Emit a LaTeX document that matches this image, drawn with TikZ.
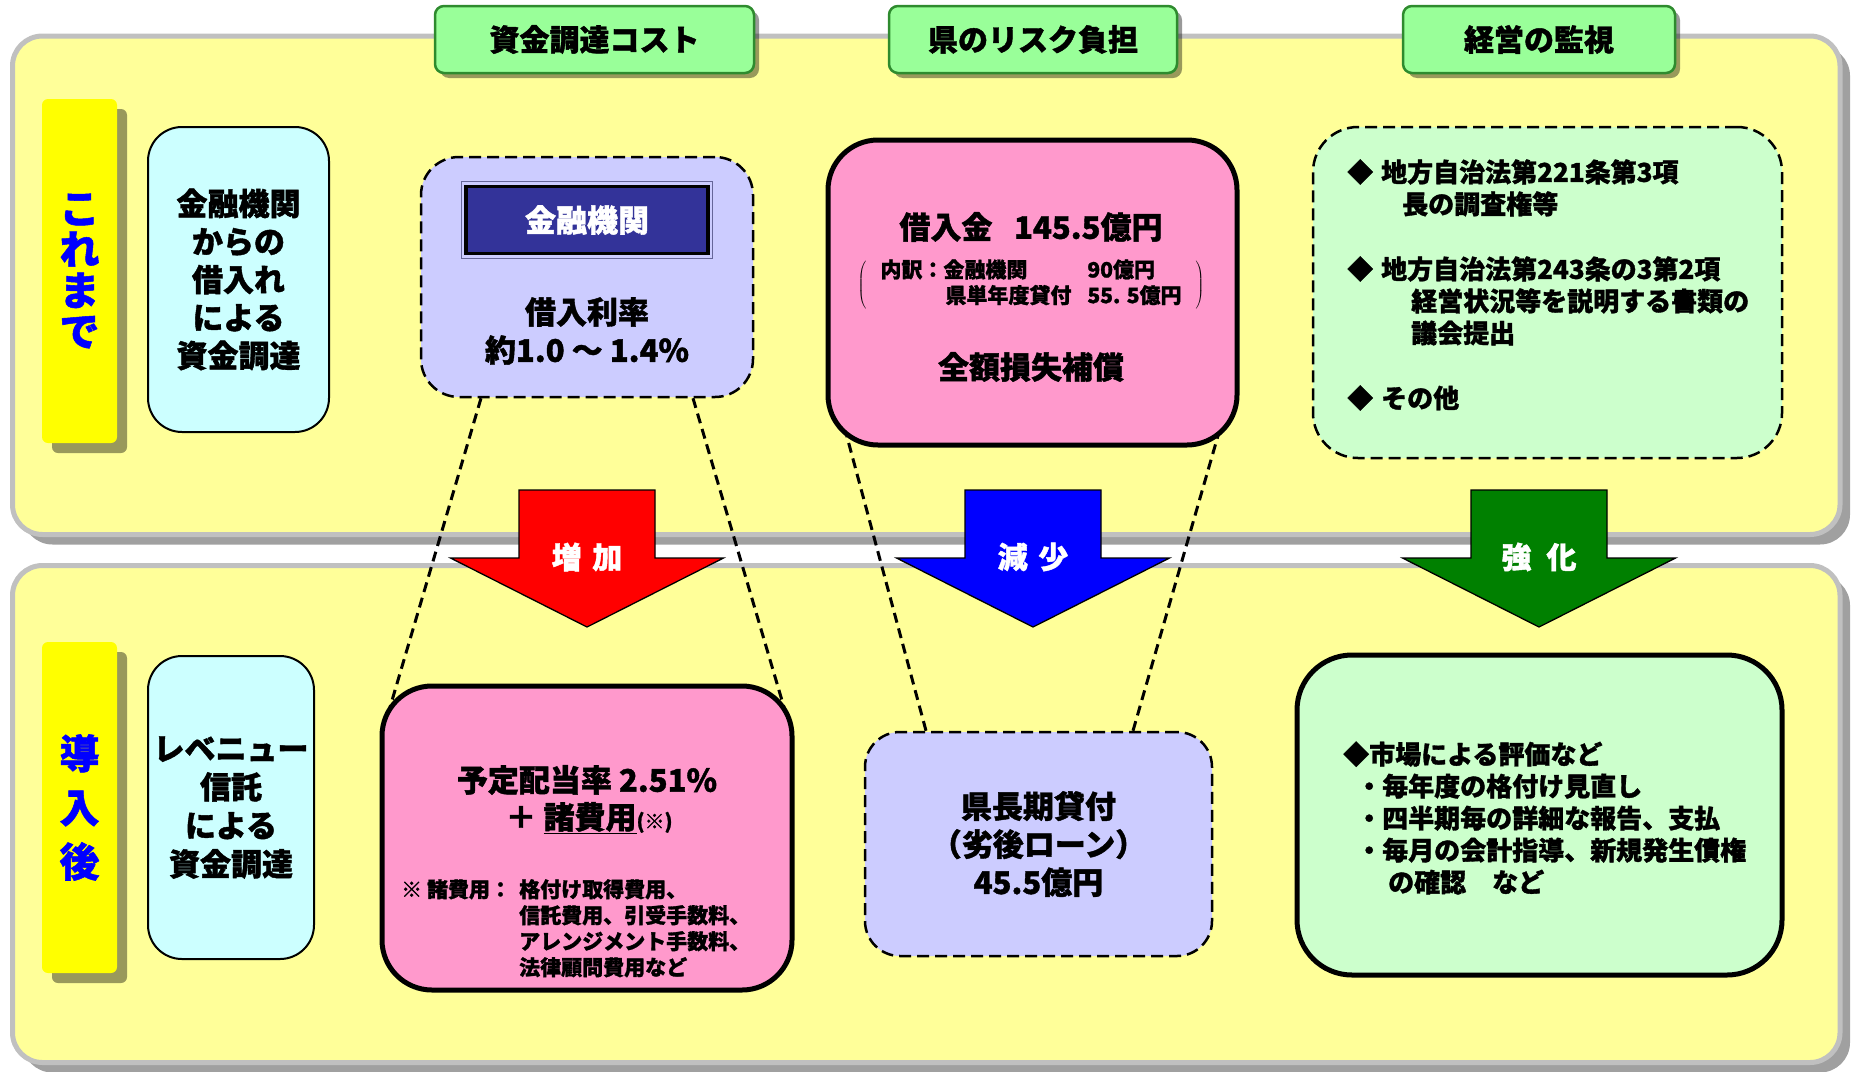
\documentclass[tikz,border=0pt]{standalone}
\usepackage{fontspec}
\setmainfont{Noto Sans CJK JP}[BoldFeatures={FakeBold=1.3}]
\usetikzlibrary{shadows,calc}
\definecolor{panelY}{HTML}{FFFF99}
\definecolor{panelB}{HTML}{C0C0C0}
\definecolor{panelS}{HTML}{A0A0A0}
\definecolor{hdrG}{HTML}{99FF99}
\definecolor{hdrB}{HTML}{2E8B2E}
\definecolor{cyanF}{HTML}{CCFFFF}
\definecolor{lavF}{HTML}{CCCCFF}
\definecolor{pinkF}{HTML}{FF99CC}
\definecolor{mintF}{HTML}{CCFFCC}
\definecolor{navyF}{HTML}{333399}
\definecolor{frameL}{HTML}{666699}
\definecolor{sideY}{HTML}{FFFF00}
\definecolor{sideT}{HTML}{0000FF}
\definecolor{arrR}{HTML}{FF0000}
\definecolor{arrB}{HTML}{0000FF}
\definecolor{arrG}{HTML}{008000}
\newcommand{\fsz}[2]{\fontsize{#1}{#2}\selectfont}
\pgfdeclarelayer{bg}
\pgfdeclarelayer{mid}
\pgfsetlayers{bg,mid,main}
\newcommand{\mkdownarrow}[2]{%
  \draw[line width=1.3pt, fill=#2] (#1-68,490) -- (#1+68,490) -- (#1+68,558) -- (#1+136.5,558) -- (#1,627) -- (#1-136.5,558) -- (#1-68,558) -- cycle;}
\begin{document}
\begin{tikzpicture}[x=1pt,y=-1pt,
  panel/.style={draw=panelB, line width=5pt, fill=panelY, rounded corners=30pt, minimum width=1827.5pt, inner sep=0pt,
    drop shadow={shadow xshift=10pt, shadow yshift=-10pt, fill=panelS, opacity=1}},
  header/.style={draw=hdrB, line width=2.5pt, fill=hdrG, rounded corners=9pt, minimum height=67pt, inner sep=0pt,
    font=\bfseries\fsz{30}{30}, drop shadow={shadow xshift=5pt, shadow yshift=-5pt, opacity=0.4, fill=black}},
  side/.style={fill=sideY, rounded corners=6pt, minimum width=75pt, inner sep=0pt, text=sideT, align=center,
    drop shadow={shadow xshift=10pt, shadow yshift=-10pt, opacity=0.4, fill=black}},
  cyanbox/.style={draw=black, line width=2pt, fill=cyanF, rounded corners=34pt, align=center, inner sep=0pt,
    font=\bfseries\fsz{31}{38}},
  lavbox/.style={draw=black, line width=2.5pt, dash pattern=on 12pt off 6pt, fill=lavF, inner sep=0pt},
  pinkbox/.style={draw=black, line width=5pt, fill=pinkF, rounded corners=50pt, inner sep=0pt},
  mintdash/.style={draw=black, line width=2.5pt, dash pattern=on 12pt off 6pt, fill=mintF, rounded corners=45pt, inner sep=0pt},
  mintbox/.style={draw=black, line width=5pt, fill=mintF, rounded corners=55pt, inner sep=0pt},
  txt/.style={font=\bfseries\fsz{31}{38}, inner sep=0pt},
  arrowtxt/.style={font=\bfseries\fsz{30}{30}, text=white, inner sep=0pt},
  conn/.style={line width=3pt, dash pattern=on 10pt off 6pt}
]
\useasboundingbox (0,0) rectangle (1851,1071);

% panels
\begin{pgfonlayer}{bg}
\node[panel, minimum height=498.5pt] (toppanel) at (926.25,285.25) {};
\node[panel, minimum height=497pt] (botpanel) at (926.25,814) {};
\end{pgfonlayer}

% column headers
\node[header, minimum width=319pt] (h1) at (594.5,39.5) {資金調達コスト};
\node[header, minimum width=288pt] (h2) at (1033,39.5) {県のリスク負担};
\node[header, minimum width=272pt] (h3) at (1539,39.5) {経営の監視};

% row labels
\node[side, minimum height=344pt, font=\bfseries\fsz{40}{41}] (s1) at (79.5,271) {こ\\れ\\ま\\で};
\node[side, minimum height=331pt, font=\bfseries\fsz{40}{54}] (s2) at (79.5,807.5) {導\\入\\後};

% method boxes
\node[cyanbox, minimum width=181pt, minimum height=305pt] (c1) at (238.5,279.5) {金融機関\\からの\\借入れ\\による\\資金調達};
\node[cyanbox, minimum width=166pt, minimum height=303pt, font=\bfseries\fsz{31}{38.5}] (c2) at (231,807.5) {レベニュー\\信託\\による\\資金調達};

% cost column, before
\node[lavbox, rounded corners=38pt, minimum width=332pt, minimum height=240pt] (lav1) at (587,277) {};
\node[draw=black, line width=3.5pt, fill=navyF, minimum width=242pt, minimum height=67pt, inner sep=0pt,
      text=white, font=\bfseries\fsz{31}{31}] (bank) at (587,220) {金融機関};
\draw[frameL, line width=1.2pt] ($(bank.north west)+(-3,-3)$) rectangle ($(bank.south east)+(3,3)$);
\node[txt] (rate1) at (587,312) {借入利率};
\node[txt] (rate2) at (587,350) {約1.0 ～ 1.4\%};

% risk column, before
\node[pinkbox, minimum width=409pt, minimum height=305pt] (pink1) at (1032.5,292.5) {};
\node[txt] (loan) at (1031,227) {借入金\hspace{0.7em}145.5億円};
\node[inner sep=0pt, font=\bfseries\fsz{21}{25}] (breakdown) at (1031,285)
  {$\left(\hspace{14pt}\vcenter{\hbox{\begin{tabular}{@{}p{207pt}@{}l@{}}内訳：金融機関 & 90億円\\ \hspace*{65pt}県単年度貸付 & 55. 5億円\end{tabular}}}\hspace{14pt}\right)$};
\node[txt] (guarantee) at (1031,367) {全額損失補償};

% monitoring column, before
\node[mintdash, minimum width=469pt, minimum height=331pt] (law) at (1547.5,292.5) {};
\node[font=\bfseries\fsz{26}{32}, align=left, anchor=west, inner sep=0pt] (lawtext) at (1347,285)
  {◆\hspace{8pt}地方自治法第221条第3項\\
   \hspace*{55pt}長の調査権等\\[33pt]
   ◆\hspace{8pt}地方自治法第243条の3第2項\\
   \hspace*{64pt}経営状況等を説明する書類の\\
   \hspace*{64pt}議会提出\\[33pt]
   ◆\hspace{8pt}その他};

% arrows
\mkdownarrow{587}{arrR}
\mkdownarrow{1033}{arrB}
\mkdownarrow{1539}{arrG}
\node[arrowtxt] (t1) at (587,557) {増\hspace{0.35em}加};
\node[arrowtxt] (t2) at (1033,557) {減\hspace{0.35em}少};
\node[arrowtxt] (t3) at (1539,557) {強\hspace{0.5em}化};

% cost column, after
\node[pinkbox, minimum width=410pt, minimum height=304pt] (pink2) at (587,838) {};
\node[txt] (dividend) at (587,780) {予定配当率 2.51\%};
\node[txt] (fees) at (589,818) {＋ \underline{諸費用}{\fsz{20}{20}(※)}};
\node[anchor=west, inner sep=0pt, font=\bfseries\fsz{21}{26}] (feenote) at (401,931)
  {\begin{tabular}{@{}p{118pt}@{}l@{}}※ 諸費用：&格付け取得費用、\\&信託費用、引受手数料、\\&アレンジメント手数料、\\&法律顧問費用など\end{tabular}};

% risk column, after
\node[lavbox, rounded corners=35pt, minimum width=347pt, minimum height=224pt, align=center,
      font=\bfseries\fsz{31}{38}] (lav2) at (1038.5,844) {県長期貸付\\（劣後ローン）\\45.5億円};

% monitoring column, after
\node[mintbox, minimum width=485pt, minimum height=320pt] (monitor) at (1539.5,815) {};
\node[font=\bfseries\fsz{26}{32}, align=left, anchor=west, inner sep=0pt] (montext) at (1343,818)
  {◆市場による評価など\\
   \hspace*{13pt}・毎年度の格付け見直し\\
   \hspace*{13pt}・四半期毎の詳細な報告、支払\\
   \hspace*{13pt}・毎月の会計指導、新規発生債権\\
   \hspace*{45pt}の確認　など};

% dashed connectors
\begin{pgfonlayer}{mid}
\draw[conn] ($(lav1.south)+(-106,0)$) -- ($(pink2.north)+(-200,34)$);
\draw[conn] ($(lav1.south)+(106,0)$) -- ($(pink2.north)+(200,34)$);
\draw[conn] ($(lav2.north)+(-112.5,0)$) -- ($(pink1.south)+(-190,-27.5)$);
\draw[conn] ($(lav2.north)+(94.5,0)$) -- ($(pink1.south)+(190,-27.5)$);
\end{pgfonlayer}
\end{tikzpicture}
\end{document}
